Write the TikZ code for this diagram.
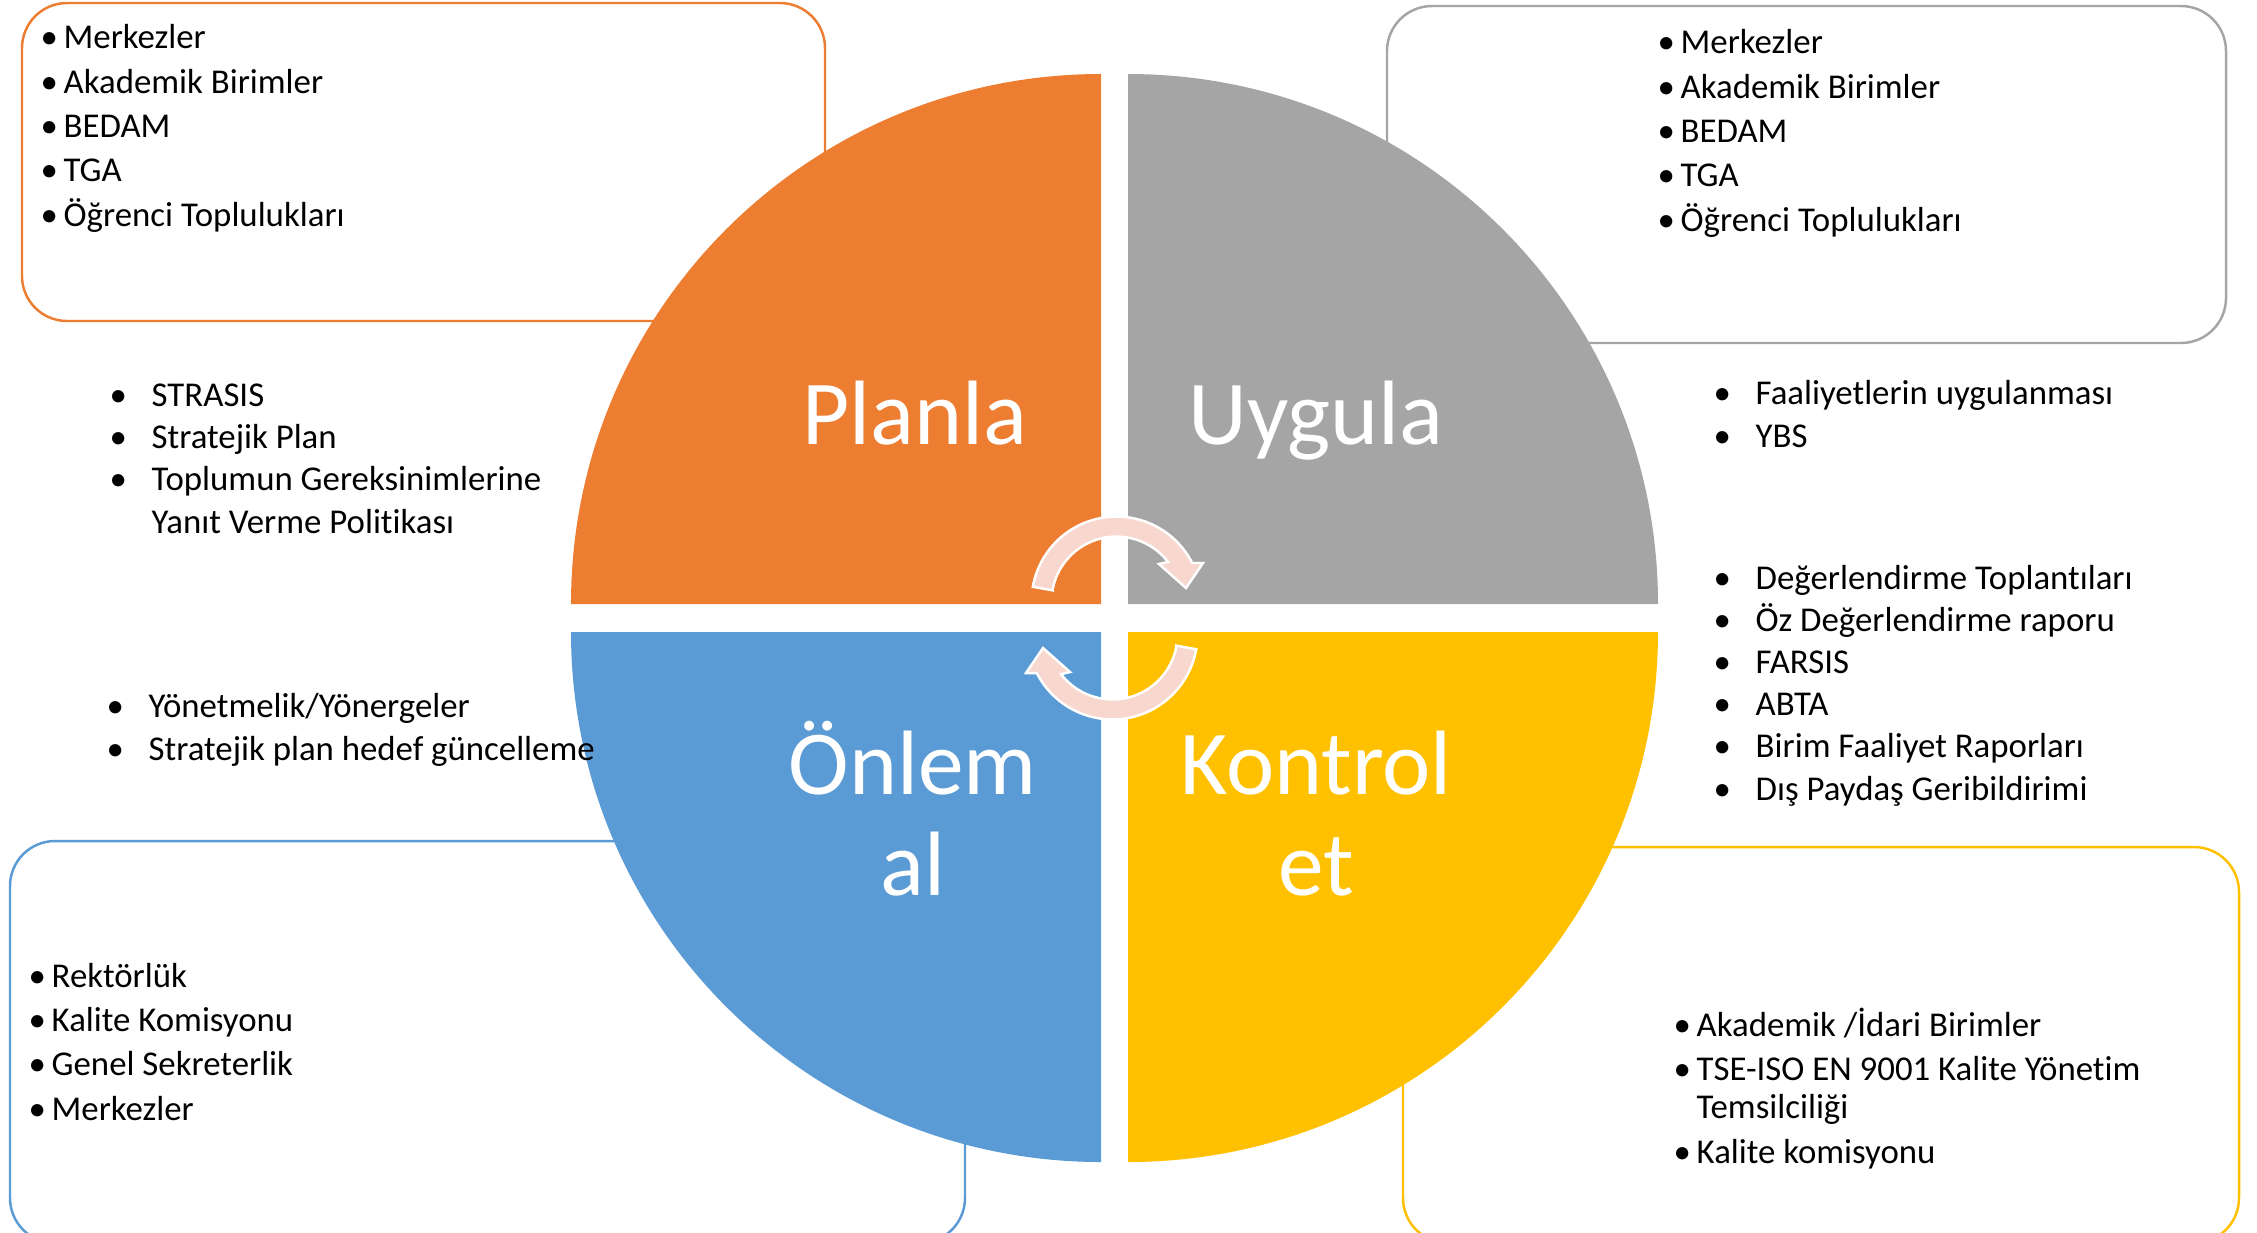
\documentclass[tikz,border=0pt]{standalone}
\usepackage{fontspec}
\setmainfont{Carlito}[Ligatures=NoCommon]
\usepackage{tikz}
\definecolor{planorange}{HTML}{ED7D31}
\definecolor{applygrey}{HTML}{A5A5A5}
\definecolor{actblue}{HTML}{5B9BD5}
\definecolor{checkgold}{HTML}{FFC000}
\definecolor{arrowpink}{RGB}{248,216,206}
\tikzstyle{infobox}=[rounded corners=0.45cm, line width=0.7pt, fill=white]
\tikzstyle{phase}=[text=white, font=\fontsize{26}{28.5}\selectfont, align=center, inner sep=0pt, anchor=base]
\tikzstyle{boxlist}=[font=\fontsize{9.9}{12.6}\selectfont, align=left, inner sep=0pt, anchor=base west]
\tikzstyle{freelist}=[font=\fontsize{9.9}{12}\selectfont, align=left, inner sep=0pt, anchor=base west]
\tikzstyle{cyclearrow}=[fill=arrowpink, draw=white, line width=0.7pt]
\newcommand{\boxitem}[1]{\makebox[0.23cm][l]{\textbullet}#1}
\newcommand{\listitem}[1]{\makebox[0.42cm][l]{\textbullet}#1}

\begin{document}
\begin{tikzpicture}[x=0.01cm, y=0.01cm, yscale=-1]
    \useasboundingbox (0,0) rectangle (2257,1232);
    % boxes behind the circle
    \draw[infobox, draw=planorange] (22,3) rectangle (825,321);
    \draw[infobox, draw=applygrey] (1387,6) rectangle (2226,343);
    \draw[infobox, draw=actblue] (10,841) rectangle (965,1243);
    \draw[infobox, draw=checkgold] (1403,847) rectangle (2239,1243);
    % four quarters
    \fill[planorange] (1101,604) -- ++(-530,0) arc[start angle=180, end angle=270, radius=530] -- cycle;
    \fill[applygrey] (1128,604) -- ++(0,-530) arc[start angle=270, end angle=360, radius=530] -- cycle;
    \fill[checkgold] (1128,632) -- ++(530,0) arc[start angle=0, end angle=90, radius=530] -- cycle;
    \fill[actblue] (1101,632) -- ++(0,530) arc[start angle=90, end angle=180, radius=530] -- cycle;
    % circular arrows
    \draw[cyclearrow] (1052.5,590.3) -- (1032.8,586.8) arc[start angle=190, end angle=333, radius=85]
        -- (1203,563) -- (1186,588) -- (1159,564) -- (1168,561.9)
        arc[start angle=322.4, end angle=190, radius=65] -- cycle;
    \draw[cyclearrow, rotate around={180:(1114.5,618)}] (1052.5,590.3) -- (1032.8,586.8) arc[start angle=190, end angle=333, radius=85]
        -- (1203,563) -- (1186,588) -- (1159,564) -- (1168,561.9)
        arc[start angle=322.4, end angle=190, radius=65] -- cycle;
    % phase names (base = last line)
    \node[phase] (planla) at (914.5,444) {Planla};
    \node[phase] (uygula) at (1316,444) {Uygula};
    \node[phase] (onlem) at (913,895) {Önlem\\al};
    \node[phase] (kontrol) at (1316,895) {Kontrol\\et};
    % lists in the boxes
    \node[boxlist] (planunits) at (40,226) {\boxitem{Merkezler}\\ \boxitem{Akademik Birimler}\\ \boxitem{BEDAM}\\ \boxitem{TGA}\\ \boxitem{Öğrenci Toplulukları}};
    \node[boxlist] (applyunits) at (1657,231) {\boxitem{Merkezler}\\ \boxitem{Akademik Birimler}\\ \boxitem{BEDAM}\\ \boxitem{TGA}\\ \boxitem{Öğrenci Toplulukları}};
    \node[boxlist] (actunits) at (28,1120) {\boxitem{Rektörlük}\\ \boxitem{Kalite Komisyonu}\\ \boxitem{Genel Sekreterlik}\\ \boxitem{Merkezler}};
    \node[boxlist] (checkunits) at (1673,1163) {\boxitem{Akademik /İdari Birimler}\\ \boxitem{TSE-ISO EN 9001 Kalite Yönetim}\\[-1.8pt] \hspace*{0.23cm}Temsilciliği\\ \boxitem{Kalite komisyonu}};
    % free lists
    \node[freelist] (plantools) at (109,533) {\listitem{STRASIS}\\ \listitem{Stratejik Plan}\\ \listitem{Toplumun Gereksinimlerine}\\ \hspace*{0.42cm}Yanıt Verme Politikası};
    \node[freelist] (applytools) at (1713,447) {\listitem{Faaliyetlerin uygulanması}\\ \listitem{YBS}};
    \node[freelist] (checktools) at (1713,800) {\listitem{Değerlendirme Toplantıları}\\ \listitem{Öz Değerlendirme raporu}\\ \listitem{FARSIS}\\ \listitem{ABTA}\\ \listitem{Birim Faaliyet Raporları}\\ \listitem{Dış Paydaş Geribildirimi}};
    \node[freelist] (acttools) at (106,760) {\listitem{Yönetmelik/Yönergeler}\\ \listitem{Stratejik plan hedef güncelleme}};
\end{tikzpicture}
\end{document}
